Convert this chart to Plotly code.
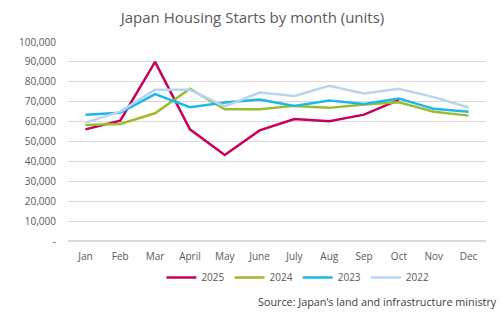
import plotly.graph_objects as go

months = ["Jan", "Feb", "Mar", "April", "May", "June", "July", "Aug", "Sep", "Oct", "Nov", "Dec"]
s2025 = [56100, 60500, 90000, 56100, 43200, 55600, 61300, 60200, 63500, 70900, None, None]
s2024 = [58300, 58800, 64200, 76500, 66200, 66200, 67900, 66900, 68600, 69700, 65000, 63000]
s2023 = [63500, 64500, 73800, 67200, 69600, 71100, 67900, 70600, 68900, 71600, 66400, 65000]
s2022 = [59500, 65000, 76000, 76000, 67600, 74600, 72900, 78000, 74100, 76500, 72300, 67100]
tick_vals = [0, 10000, 20000, 30000, 40000, 50000, 60000, 70000, 80000, 90000, 100000]
tick_text = ["-", "10,000", "20,000", "30,000", "40,000", "50,000", "60,000", "70,000", "80,000", "90,000", "100,000"]

series = [("2025", s2025, "#C9005B"), ("2024", s2024, "#9CBB2E"),
          ("2023", s2023, "#1FB6EA"), ("2022", s2022, "#B7D5EF")]

fig = go.Figure()
for name, vals, col in series:
    fig.add_trace(go.Scatter(x=months, y=vals, name=name, mode="lines",
                             line=dict(color=col, width=2.5)))

font = "Open Sans"
fig.update_layout(
    width=500, height=324,
    margin=dict(l=68, r=14, t=42, b=83),
    paper_bgcolor="white", plot_bgcolor="white",
    font=dict(family=font, size=10, color="#595959"),
    title=dict(text="Japan Housing Starts by month (units)", x=0.505, xanchor="center",
               y=0.945, yanchor="middle", font=dict(family=font, size=15, color="#595959")),
    showlegend=True,
    legend=dict(orientation="h", x=0.55, xanchor="center", y=-0.11, yanchor="top",
                font=dict(size=10, color="#595959"), tracegroupgap=0),
    xaxis=dict(showgrid=False, showline=False, ticks="", range=[-0.5, 11.5],
               ticklabelstandoff=8, tickfont=dict(size=10, color="#595959")),
    yaxis=dict(range=[0, 100000], tickvals=tick_vals, ticktext=tick_text, showgrid=True,
               gridcolor="#D9D9D9", gridwidth=1, zeroline=True, zerolinecolor="#D9D9D9",
               zerolinewidth=1.5, ticks="", ticklabelstandoff=11,
               tickfont=dict(size=10, color="#595959")),
    annotations=[dict(text="Source: Japan\u2019s land and infrastructure ministry", xref="paper",
                      yref="paper", x=1.03, xanchor="right", y=-0.305, yanchor="middle",
                      showarrow=False, font=dict(family=font, size=10.8, color="#404040"))],
)
fig.write_html("out.html")
